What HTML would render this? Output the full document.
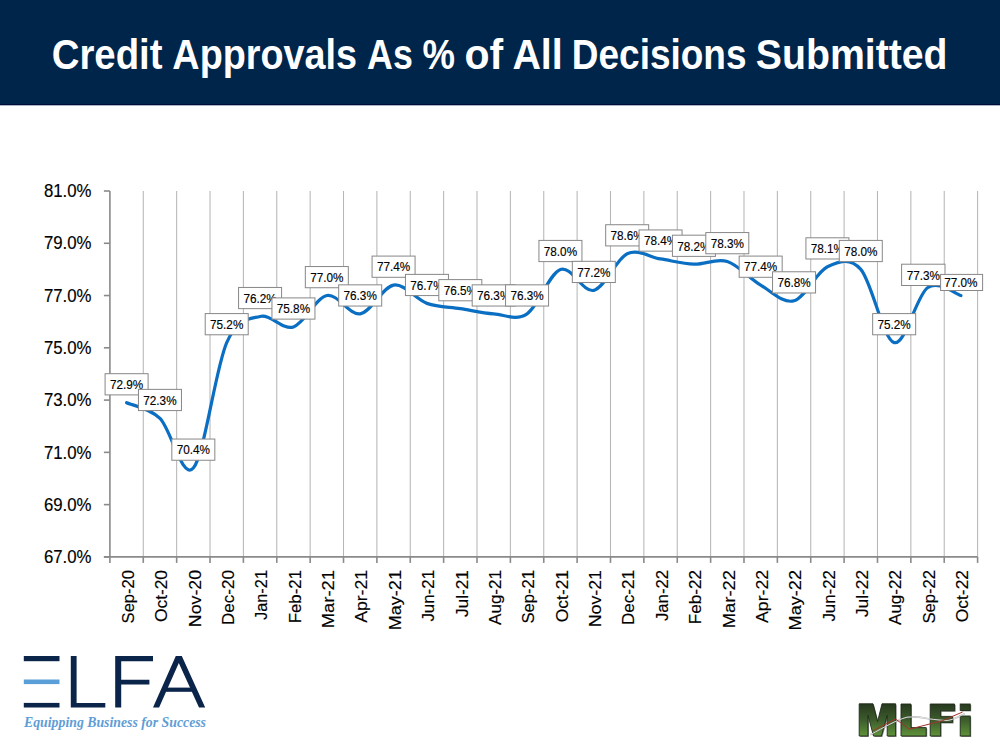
<!DOCTYPE html>
<html><head><meta charset="utf-8">
<style>
html,body{margin:0;padding:0;background:#fff;}
body{width:1000px;height:750px;overflow:hidden;position:relative;font-family:"Liberation Sans",sans-serif;}
svg{position:absolute;left:0;top:0;}
text{font-family:"Liberation Sans",sans-serif;fill:#000;}
.ct{stroke:#000;stroke-width:0.15px;}
</style></head><body>
<svg width="1000" height="750" viewBox="0 0 1000 750">
<rect x="0" y="0" width="1000" height="104" fill="#00254a"/>
<rect x="0" y="104" width="1000" height="1" fill="#000d3a"/>
<rect x="0" y="105" width="1000" height="1" fill="#a9b6c4"/>
<text x="51.73" y="69.2" font-size="42.5" font-weight="bold" style="fill:#fff" textLength="110.74" lengthAdjust="spacingAndGlyphs">Credit</text>
<text x="172.36" y="69.2" font-size="42.5" font-weight="bold" style="fill:#fff" textLength="184.69" lengthAdjust="spacingAndGlyphs">Approvals</text>
<text x="367.11" y="69.2" font-size="42.5" font-weight="bold" style="fill:#fff" textLength="45.76" lengthAdjust="spacingAndGlyphs">As</text>
<text x="422.49" y="69.2" font-size="42.5" font-weight="bold" style="fill:#fff" textLength="32.47" lengthAdjust="spacingAndGlyphs">%</text>
<text x="464.40" y="69.2" font-size="42.5" font-weight="bold" style="fill:#fff" textLength="38.72" lengthAdjust="spacingAndGlyphs">of</text>
<text x="512.42" y="69.2" font-size="42.5" font-weight="bold" style="fill:#fff" textLength="50.37" lengthAdjust="spacingAndGlyphs">All</text>
<text x="571.83" y="69.2" font-size="42.5" font-weight="bold" style="fill:#fff" textLength="174.69" lengthAdjust="spacingAndGlyphs">Decisions</text>
<text x="755.87" y="69.2" font-size="42.5" font-weight="bold" style="fill:#fff" textLength="191.71" lengthAdjust="spacingAndGlyphs">Submitted</text>

<line x1="143.27" y1="191.00" x2="143.27" y2="556.90" stroke="#b6b6b6" stroke-width="1.05"/>
<line x1="176.65" y1="191.00" x2="176.65" y2="556.90" stroke="#b6b6b6" stroke-width="1.05"/>
<line x1="210.02" y1="191.00" x2="210.02" y2="556.90" stroke="#b6b6b6" stroke-width="1.05"/>
<line x1="243.39" y1="191.00" x2="243.39" y2="556.90" stroke="#b6b6b6" stroke-width="1.05"/>
<line x1="276.77" y1="191.00" x2="276.77" y2="556.90" stroke="#b6b6b6" stroke-width="1.05"/>
<line x1="310.14" y1="191.00" x2="310.14" y2="556.90" stroke="#b6b6b6" stroke-width="1.05"/>
<line x1="343.51" y1="191.00" x2="343.51" y2="556.90" stroke="#b6b6b6" stroke-width="1.05"/>
<line x1="376.88" y1="191.00" x2="376.88" y2="556.90" stroke="#b6b6b6" stroke-width="1.05"/>
<line x1="410.26" y1="191.00" x2="410.26" y2="556.90" stroke="#b6b6b6" stroke-width="1.05"/>
<line x1="443.63" y1="191.00" x2="443.63" y2="556.90" stroke="#b6b6b6" stroke-width="1.05"/>
<line x1="477.00" y1="191.00" x2="477.00" y2="556.90" stroke="#b6b6b6" stroke-width="1.05"/>
<line x1="510.38" y1="191.00" x2="510.38" y2="556.90" stroke="#b6b6b6" stroke-width="1.05"/>
<line x1="543.75" y1="191.00" x2="543.75" y2="556.90" stroke="#b6b6b6" stroke-width="1.05"/>
<line x1="577.12" y1="191.00" x2="577.12" y2="556.90" stroke="#b6b6b6" stroke-width="1.05"/>
<line x1="610.50" y1="191.00" x2="610.50" y2="556.90" stroke="#b6b6b6" stroke-width="1.05"/>
<line x1="643.87" y1="191.00" x2="643.87" y2="556.90" stroke="#b6b6b6" stroke-width="1.05"/>
<line x1="677.24" y1="191.00" x2="677.24" y2="556.90" stroke="#b6b6b6" stroke-width="1.05"/>
<line x1="710.62" y1="191.00" x2="710.62" y2="556.90" stroke="#b6b6b6" stroke-width="1.05"/>
<line x1="743.99" y1="191.00" x2="743.99" y2="556.90" stroke="#b6b6b6" stroke-width="1.05"/>
<line x1="777.36" y1="191.00" x2="777.36" y2="556.90" stroke="#b6b6b6" stroke-width="1.05"/>
<line x1="810.73" y1="191.00" x2="810.73" y2="556.90" stroke="#b6b6b6" stroke-width="1.05"/>
<line x1="844.11" y1="191.00" x2="844.11" y2="556.90" stroke="#b6b6b6" stroke-width="1.05"/>
<line x1="877.48" y1="191.00" x2="877.48" y2="556.90" stroke="#b6b6b6" stroke-width="1.05"/>
<line x1="910.85" y1="191.00" x2="910.85" y2="556.90" stroke="#b6b6b6" stroke-width="1.05"/>
<line x1="944.23" y1="191.00" x2="944.23" y2="556.90" stroke="#b6b6b6" stroke-width="1.05"/>
<line x1="977.60" y1="191.00" x2="977.60" y2="556.90" stroke="#b6b6b6" stroke-width="1.05"/>
<line x1="109.90" y1="191.00" x2="109.90" y2="556.90" stroke="#8a8a8a" stroke-width="1.6"/>
<line x1="103.90" y1="556.90" x2="977.60" y2="556.90" stroke="#8a8a8a" stroke-width="1.6"/>
<line x1="103.90" y1="556.90" x2="109.90" y2="556.90" stroke="#8a8a8a" stroke-width="1.6"/>
<text class="ct" x="91.5" y="563.10" text-anchor="end" font-size="17.5" textLength="47.6" lengthAdjust="spacingAndGlyphs">67.0%</text>
<line x1="103.90" y1="504.63" x2="109.90" y2="504.63" stroke="#8a8a8a" stroke-width="1.6"/>
<text class="ct" x="91.5" y="510.83" text-anchor="end" font-size="17.5" textLength="47.6" lengthAdjust="spacingAndGlyphs">69.0%</text>
<line x1="103.90" y1="452.36" x2="109.90" y2="452.36" stroke="#8a8a8a" stroke-width="1.6"/>
<text class="ct" x="91.5" y="458.56" text-anchor="end" font-size="17.5" textLength="47.6" lengthAdjust="spacingAndGlyphs">71.0%</text>
<line x1="103.90" y1="400.09" x2="109.90" y2="400.09" stroke="#8a8a8a" stroke-width="1.6"/>
<text class="ct" x="91.5" y="406.29" text-anchor="end" font-size="17.5" textLength="47.6" lengthAdjust="spacingAndGlyphs">73.0%</text>
<line x1="103.90" y1="347.81" x2="109.90" y2="347.81" stroke="#8a8a8a" stroke-width="1.6"/>
<text class="ct" x="91.5" y="354.01" text-anchor="end" font-size="17.5" textLength="47.6" lengthAdjust="spacingAndGlyphs">75.0%</text>
<line x1="103.90" y1="295.54" x2="109.90" y2="295.54" stroke="#8a8a8a" stroke-width="1.6"/>
<text class="ct" x="91.5" y="301.74" text-anchor="end" font-size="17.5" textLength="47.6" lengthAdjust="spacingAndGlyphs">77.0%</text>
<line x1="103.90" y1="243.27" x2="109.90" y2="243.27" stroke="#8a8a8a" stroke-width="1.6"/>
<text class="ct" x="91.5" y="249.47" text-anchor="end" font-size="17.5" textLength="47.6" lengthAdjust="spacingAndGlyphs">79.0%</text>
<line x1="103.90" y1="191.00" x2="109.90" y2="191.00" stroke="#8a8a8a" stroke-width="1.6"/>
<text class="ct" x="91.5" y="197.20" text-anchor="end" font-size="17.5" textLength="47.6" lengthAdjust="spacingAndGlyphs">81.0%</text>
<line x1="109.90" y1="556.90" x2="109.90" y2="562.90" stroke="#8a8a8a" stroke-width="1.6"/>
<line x1="143.27" y1="556.90" x2="143.27" y2="562.90" stroke="#8a8a8a" stroke-width="1.6"/>
<line x1="176.65" y1="556.90" x2="176.65" y2="562.90" stroke="#8a8a8a" stroke-width="1.6"/>
<line x1="210.02" y1="556.90" x2="210.02" y2="562.90" stroke="#8a8a8a" stroke-width="1.6"/>
<line x1="243.39" y1="556.90" x2="243.39" y2="562.90" stroke="#8a8a8a" stroke-width="1.6"/>
<line x1="276.77" y1="556.90" x2="276.77" y2="562.90" stroke="#8a8a8a" stroke-width="1.6"/>
<line x1="310.14" y1="556.90" x2="310.14" y2="562.90" stroke="#8a8a8a" stroke-width="1.6"/>
<line x1="343.51" y1="556.90" x2="343.51" y2="562.90" stroke="#8a8a8a" stroke-width="1.6"/>
<line x1="376.88" y1="556.90" x2="376.88" y2="562.90" stroke="#8a8a8a" stroke-width="1.6"/>
<line x1="410.26" y1="556.90" x2="410.26" y2="562.90" stroke="#8a8a8a" stroke-width="1.6"/>
<line x1="443.63" y1="556.90" x2="443.63" y2="562.90" stroke="#8a8a8a" stroke-width="1.6"/>
<line x1="477.00" y1="556.90" x2="477.00" y2="562.90" stroke="#8a8a8a" stroke-width="1.6"/>
<line x1="510.38" y1="556.90" x2="510.38" y2="562.90" stroke="#8a8a8a" stroke-width="1.6"/>
<line x1="543.75" y1="556.90" x2="543.75" y2="562.90" stroke="#8a8a8a" stroke-width="1.6"/>
<line x1="577.12" y1="556.90" x2="577.12" y2="562.90" stroke="#8a8a8a" stroke-width="1.6"/>
<line x1="610.50" y1="556.90" x2="610.50" y2="562.90" stroke="#8a8a8a" stroke-width="1.6"/>
<line x1="643.87" y1="556.90" x2="643.87" y2="562.90" stroke="#8a8a8a" stroke-width="1.6"/>
<line x1="677.24" y1="556.90" x2="677.24" y2="562.90" stroke="#8a8a8a" stroke-width="1.6"/>
<line x1="710.62" y1="556.90" x2="710.62" y2="562.90" stroke="#8a8a8a" stroke-width="1.6"/>
<line x1="743.99" y1="556.90" x2="743.99" y2="562.90" stroke="#8a8a8a" stroke-width="1.6"/>
<line x1="777.36" y1="556.90" x2="777.36" y2="562.90" stroke="#8a8a8a" stroke-width="1.6"/>
<line x1="810.73" y1="556.90" x2="810.73" y2="562.90" stroke="#8a8a8a" stroke-width="1.6"/>
<line x1="844.11" y1="556.90" x2="844.11" y2="562.90" stroke="#8a8a8a" stroke-width="1.6"/>
<line x1="877.48" y1="556.90" x2="877.48" y2="562.90" stroke="#8a8a8a" stroke-width="1.6"/>
<line x1="910.85" y1="556.90" x2="910.85" y2="562.90" stroke="#8a8a8a" stroke-width="1.6"/>
<line x1="944.23" y1="556.90" x2="944.23" y2="562.90" stroke="#8a8a8a" stroke-width="1.6"/>
<line x1="977.60" y1="556.90" x2="977.60" y2="562.90" stroke="#8a8a8a" stroke-width="1.6"/>
<text class="ct" transform="translate(133.79,570) rotate(-90)" text-anchor="end" font-size="16.8" textLength="53.40" lengthAdjust="spacingAndGlyphs">Sep-20</text>
<text class="ct" transform="translate(167.16,570) rotate(-90)" text-anchor="end" font-size="16.8" textLength="52.00" lengthAdjust="spacingAndGlyphs">Oct-20</text>
<text class="ct" transform="translate(200.53,570) rotate(-90)" text-anchor="end" font-size="16.8" textLength="57.15" lengthAdjust="spacingAndGlyphs">Nov-20</text>
<text class="ct" transform="translate(233.91,570) rotate(-90)" text-anchor="end" font-size="16.8" textLength="54.96" lengthAdjust="spacingAndGlyphs">Dec-20</text>
<text class="ct" transform="translate(267.28,570) rotate(-90)" text-anchor="end" font-size="16.8" textLength="50.06" lengthAdjust="spacingAndGlyphs">Jan-21</text>
<text class="ct" transform="translate(300.65,570) rotate(-90)" text-anchor="end" font-size="16.8" textLength="53.30" lengthAdjust="spacingAndGlyphs">Feb-21</text>
<text class="ct" transform="translate(334.03,570) rotate(-90)" text-anchor="end" font-size="16.8" textLength="58.31" lengthAdjust="spacingAndGlyphs">Mar-21</text>
<text class="ct" transform="translate(367.40,570) rotate(-90)" text-anchor="end" font-size="16.8" textLength="52.89" lengthAdjust="spacingAndGlyphs">Apr-21</text>
<text class="ct" transform="translate(400.77,570) rotate(-90)" text-anchor="end" font-size="16.8" textLength="60.37" lengthAdjust="spacingAndGlyphs">May-21</text>
<text class="ct" transform="translate(434.14,570) rotate(-90)" text-anchor="end" font-size="16.8" textLength="51.59" lengthAdjust="spacingAndGlyphs">Jun-21</text>
<text class="ct" transform="translate(467.52,570) rotate(-90)" text-anchor="end" font-size="16.8" textLength="47.11" lengthAdjust="spacingAndGlyphs">Jul-21</text>
<text class="ct" transform="translate(500.89,570) rotate(-90)" text-anchor="end" font-size="16.8" textLength="54.97" lengthAdjust="spacingAndGlyphs">Aug-21</text>
<text class="ct" transform="translate(534.26,570) rotate(-90)" text-anchor="end" font-size="16.8" textLength="53.57" lengthAdjust="spacingAndGlyphs">Sep-21</text>
<text class="ct" transform="translate(567.64,570) rotate(-90)" text-anchor="end" font-size="16.8" textLength="52.17" lengthAdjust="spacingAndGlyphs">Oct-21</text>
<text class="ct" transform="translate(601.01,570) rotate(-90)" text-anchor="end" font-size="16.8" textLength="57.33" lengthAdjust="spacingAndGlyphs">Nov-21</text>
<text class="ct" transform="translate(634.38,570) rotate(-90)" text-anchor="end" font-size="16.8" textLength="55.14" lengthAdjust="spacingAndGlyphs">Dec-21</text>
<text class="ct" transform="translate(667.76,570) rotate(-90)" text-anchor="end" font-size="16.8" textLength="51.00" lengthAdjust="spacingAndGlyphs">Jan-22</text>
<text class="ct" transform="translate(701.13,570) rotate(-90)" text-anchor="end" font-size="16.8" textLength="54.27" lengthAdjust="spacingAndGlyphs">Feb-22</text>
<text class="ct" transform="translate(734.50,570) rotate(-90)" text-anchor="end" font-size="16.8" textLength="58.34" lengthAdjust="spacingAndGlyphs">Mar-22</text>
<text class="ct" transform="translate(767.88,570) rotate(-90)" text-anchor="end" font-size="16.8" textLength="52.92" lengthAdjust="spacingAndGlyphs">Apr-22</text>
<text class="ct" transform="translate(801.25,570) rotate(-90)" text-anchor="end" font-size="16.8" textLength="60.40" lengthAdjust="spacingAndGlyphs">May-22</text>
<text class="ct" transform="translate(834.62,570) rotate(-90)" text-anchor="end" font-size="16.8" textLength="51.61" lengthAdjust="spacingAndGlyphs">Jun-22</text>
<text class="ct" transform="translate(867.99,570) rotate(-90)" text-anchor="end" font-size="16.8" textLength="47.14" lengthAdjust="spacingAndGlyphs">Jul-22</text>
<text class="ct" transform="translate(901.37,570) rotate(-90)" text-anchor="end" font-size="16.8" textLength="54.99" lengthAdjust="spacingAndGlyphs">Aug-22</text>
<text class="ct" transform="translate(934.74,570) rotate(-90)" text-anchor="end" font-size="16.8" textLength="53.59" lengthAdjust="spacingAndGlyphs">Sep-22</text>
<text class="ct" transform="translate(968.11,570) rotate(-90)" text-anchor="end" font-size="16.8" textLength="52.20" lengthAdjust="spacingAndGlyphs">Oct-22</text>
<path d="M126.59,402.70 C132.15,405.31 148.84,407.49 159.96,418.38 C171.08,429.27 182.21,480.67 193.33,468.04 C204.46,455.41 215.58,367.85 226.71,342.59 C237.83,317.32 248.95,319.06 260.08,316.45 C271.20,313.84 282.33,330.39 293.45,326.91 C304.58,323.42 315.70,297.72 326.83,295.54 C337.95,293.36 349.07,315.58 360.20,313.84 C371.32,312.10 382.45,286.83 393.57,285.09 C404.70,283.35 415.82,299.46 426.94,303.38 C438.07,307.30 449.19,306.87 460.32,308.61 C471.44,310.35 482.57,312.97 493.69,313.84 C504.81,314.71 515.94,321.24 527.06,313.84 C538.19,306.43 549.31,273.33 560.44,269.41 C571.56,265.49 582.69,292.93 593.81,290.32 C604.93,287.70 616.06,258.95 627.18,253.73 C638.31,248.50 649.43,257.21 660.56,258.95 C671.68,260.70 682.80,263.74 693.93,264.18 C705.05,264.62 716.18,258.08 727.30,261.57 C738.43,265.05 749.55,278.55 760.67,285.09 C771.80,291.62 782.92,303.82 794.05,300.77 C805.17,297.72 816.30,272.02 827.42,266.79 C838.55,261.57 849.67,256.77 860.79,269.41 C871.92,282.04 883.04,339.54 894.17,342.59 C905.29,345.64 916.42,295.54 927.54,287.70 C938.66,279.86 955.35,294.24 960.91,295.54" fill="none" stroke="#0a6fc2" stroke-width="3.2" stroke-linecap="round" stroke-linejoin="round"/>
<rect x="105.09" y="373.70" width="43.00" height="21.20" fill="#fff" stroke="#878787" stroke-width="1"/>
<text class="ct" x="126.59" y="389.10" text-anchor="middle" font-size="12.6" textLength="33.3" lengthAdjust="spacingAndGlyphs">72.9%</text>
<rect x="138.46" y="389.38" width="43.00" height="21.20" fill="#fff" stroke="#878787" stroke-width="1"/>
<text class="ct" x="159.96" y="404.78" text-anchor="middle" font-size="12.6" textLength="33.3" lengthAdjust="spacingAndGlyphs">72.3%</text>
<rect x="171.83" y="439.04" width="43.00" height="21.20" fill="#fff" stroke="#878787" stroke-width="1"/>
<text class="ct" x="193.33" y="454.44" text-anchor="middle" font-size="12.6" textLength="33.3" lengthAdjust="spacingAndGlyphs">70.4%</text>
<rect x="205.21" y="313.59" width="43.00" height="21.20" fill="#fff" stroke="#878787" stroke-width="1"/>
<text class="ct" x="226.71" y="328.99" text-anchor="middle" font-size="12.6" textLength="33.3" lengthAdjust="spacingAndGlyphs">75.2%</text>
<rect x="238.58" y="287.45" width="43.00" height="21.20" fill="#fff" stroke="#878787" stroke-width="1"/>
<text class="ct" x="260.08" y="302.85" text-anchor="middle" font-size="12.6" textLength="33.3" lengthAdjust="spacingAndGlyphs">76.2%</text>
<rect x="271.95" y="297.91" width="43.00" height="21.20" fill="#fff" stroke="#878787" stroke-width="1"/>
<text class="ct" x="293.45" y="313.31" text-anchor="middle" font-size="12.6" textLength="33.3" lengthAdjust="spacingAndGlyphs">75.8%</text>
<rect x="305.33" y="266.54" width="43.00" height="21.20" fill="#fff" stroke="#878787" stroke-width="1"/>
<text class="ct" x="326.83" y="281.94" text-anchor="middle" font-size="12.6" textLength="33.3" lengthAdjust="spacingAndGlyphs">77.0%</text>
<rect x="338.70" y="284.84" width="43.00" height="21.20" fill="#fff" stroke="#878787" stroke-width="1"/>
<text class="ct" x="360.20" y="300.24" text-anchor="middle" font-size="12.6" textLength="33.3" lengthAdjust="spacingAndGlyphs">76.3%</text>
<rect x="372.07" y="256.09" width="43.00" height="21.20" fill="#fff" stroke="#878787" stroke-width="1"/>
<text class="ct" x="393.57" y="271.49" text-anchor="middle" font-size="12.6" textLength="33.3" lengthAdjust="spacingAndGlyphs">77.4%</text>
<rect x="405.44" y="274.38" width="43.00" height="21.20" fill="#fff" stroke="#878787" stroke-width="1"/>
<text class="ct" x="426.94" y="289.78" text-anchor="middle" font-size="12.6" textLength="33.3" lengthAdjust="spacingAndGlyphs">76.7%</text>
<rect x="438.82" y="279.61" width="43.00" height="21.20" fill="#fff" stroke="#878787" stroke-width="1"/>
<text class="ct" x="460.32" y="295.01" text-anchor="middle" font-size="12.6" textLength="33.3" lengthAdjust="spacingAndGlyphs">76.5%</text>
<rect x="472.19" y="284.84" width="43.00" height="21.20" fill="#fff" stroke="#878787" stroke-width="1"/>
<text class="ct" x="493.69" y="300.24" text-anchor="middle" font-size="12.6" textLength="33.3" lengthAdjust="spacingAndGlyphs">76.3%</text>
<rect x="505.56" y="284.84" width="43.00" height="21.20" fill="#fff" stroke="#878787" stroke-width="1"/>
<text class="ct" x="527.06" y="300.24" text-anchor="middle" font-size="12.6" textLength="33.3" lengthAdjust="spacingAndGlyphs">76.3%</text>
<rect x="538.94" y="240.41" width="43.00" height="21.20" fill="#fff" stroke="#878787" stroke-width="1"/>
<text class="ct" x="560.44" y="255.81" text-anchor="middle" font-size="12.6" textLength="33.3" lengthAdjust="spacingAndGlyphs">78.0%</text>
<rect x="572.31" y="261.32" width="43.00" height="21.20" fill="#fff" stroke="#878787" stroke-width="1"/>
<text class="ct" x="593.81" y="276.72" text-anchor="middle" font-size="12.6" textLength="33.3" lengthAdjust="spacingAndGlyphs">77.2%</text>
<rect x="605.68" y="224.73" width="43.00" height="21.20" fill="#fff" stroke="#878787" stroke-width="1"/>
<text class="ct" x="627.18" y="240.13" text-anchor="middle" font-size="12.6" textLength="33.3" lengthAdjust="spacingAndGlyphs">78.6%</text>
<rect x="639.06" y="229.95" width="43.00" height="21.20" fill="#fff" stroke="#878787" stroke-width="1"/>
<text class="ct" x="660.56" y="245.35" text-anchor="middle" font-size="12.6" textLength="33.3" lengthAdjust="spacingAndGlyphs">78.4%</text>
<rect x="672.43" y="235.18" width="43.00" height="21.20" fill="#fff" stroke="#878787" stroke-width="1"/>
<text class="ct" x="693.93" y="250.58" text-anchor="middle" font-size="12.6" textLength="33.3" lengthAdjust="spacingAndGlyphs">78.2%</text>
<rect x="705.80" y="232.57" width="43.00" height="21.20" fill="#fff" stroke="#878787" stroke-width="1"/>
<text class="ct" x="727.30" y="247.97" text-anchor="middle" font-size="12.6" textLength="33.3" lengthAdjust="spacingAndGlyphs">78.3%</text>
<rect x="739.17" y="256.09" width="43.00" height="21.20" fill="#fff" stroke="#878787" stroke-width="1"/>
<text class="ct" x="760.67" y="271.49" text-anchor="middle" font-size="12.6" textLength="33.3" lengthAdjust="spacingAndGlyphs">77.4%</text>
<rect x="772.55" y="271.77" width="43.00" height="21.20" fill="#fff" stroke="#878787" stroke-width="1"/>
<text class="ct" x="794.05" y="287.17" text-anchor="middle" font-size="12.6" textLength="33.3" lengthAdjust="spacingAndGlyphs">76.8%</text>
<rect x="805.92" y="237.79" width="43.00" height="21.20" fill="#fff" stroke="#878787" stroke-width="1"/>
<text class="ct" x="827.42" y="253.19" text-anchor="middle" font-size="12.6" textLength="33.3" lengthAdjust="spacingAndGlyphs">78.1%</text>
<rect x="839.29" y="240.41" width="43.00" height="21.20" fill="#fff" stroke="#878787" stroke-width="1"/>
<text class="ct" x="860.79" y="255.81" text-anchor="middle" font-size="12.6" textLength="33.3" lengthAdjust="spacingAndGlyphs">78.0%</text>
<rect x="872.67" y="313.59" width="43.00" height="21.20" fill="#fff" stroke="#878787" stroke-width="1"/>
<text class="ct" x="894.17" y="328.99" text-anchor="middle" font-size="12.6" textLength="33.3" lengthAdjust="spacingAndGlyphs">75.2%</text>
<rect x="901.60" y="264.20" width="43.40" height="21.30" fill="#fff" stroke="#878787" stroke-width="1"/>
<text class="ct" x="923.30" y="279.60" text-anchor="middle" font-size="12.6" textLength="33.3" lengthAdjust="spacingAndGlyphs">77.3%</text>
<rect x="940.60" y="274.40" width="42.00" height="16.10" fill="#fff" stroke="#878787" stroke-width="1"/>
<text class="ct" x="960.91" y="287.20" text-anchor="middle" font-size="12.6" textLength="33.3" lengthAdjust="spacingAndGlyphs">77.0%</text>

<!-- MLFi logo -->
<defs>
<linearGradient id="mg" gradientUnits="userSpaceOnUse" x1="0" y1="704" x2="0" y2="736">
<stop offset="0" stop-color="#27391f"/>
<stop offset="0.5" stop-color="#3d5c2c"/>
<stop offset="1" stop-color="#5f923a"/>
</linearGradient>
</defs>
<g fill="#2a2a2a" opacity="0.55" transform="translate(1,1)">
<polygon points="859.2,736 859.2,703.8 873,703.8 877.6,721.5 882,703.8 895.6,703.8 895.6,736 887.2,736 887.2,715.4 881.4,736 873.5,736 868,715.4 868,736"/>
<polygon points="901,704 911,704 911,727.6 926.2,727.6 926.2,736 901,736"/>
<polygon points="930.2,704 954.6,704 954.6,710.8 940.6,710.8 940.6,716.4 952.6,716.4 952.6,722.4 940.6,722.4 940.6,736 930.2,736"/>
<rect x="960.2" y="704" width="10" height="6.4"/>
<rect x="960.2" y="716" width="10" height="20"/>
</g>
<g fill="url(#mg)" stroke="#1d2b17" stroke-width="0.9">
<polygon points="859.2,736 859.2,703.8 873,703.8 877.6,721.5 882,703.8 895.6,703.8 895.6,736 887.2,736 887.2,715.4 881.4,736 873.5,736 868,715.4 868,736"/>
<polygon points="901,704 911,704 911,727.6 926.2,727.6 926.2,736 901,736"/>
<polygon points="930.2,704 954.6,704 954.6,710.8 940.6,710.8 940.6,716.4 952.6,716.4 952.6,722.4 940.6,722.4 940.6,736 930.2,736"/>
<rect x="960.2" y="704" width="10" height="6.4"/>
<rect x="960.2" y="716" width="10" height="20"/>
</g>
<path d="M870.2,734.7 C885,727 896,720 907,717.2 C913,716.6 919,717 923,717.8 C928,718.5 930,719 933.4,719.4 C940,720 944,720.6 948.2,720.4 C955,719 960,716 965,713.6" fill="none" stroke="#555" stroke-width="1.6" opacity="0.5"/>
<path d="M870.2,734.7 C885,727 896,720 907,717.2 C913,716.6 919,717 923,717.8 C928,718.5 930,719 933.4,719.4 C940,720 944,720.6 948.2,720.4 C955,719 960,716 965,713.6" fill="none" stroke="#ececec" stroke-width="0.9"/>
<polyline points="872.8,730.8 895.5,719 909.4,729.2 942.2,720.8 962.6,712" fill="none" stroke="#a4302a" stroke-width="1.0"/>

<!-- ELFA logo -->
<g fill="#0b2449">
<rect x="23.8" y="656" width="35.7" height="5.2"/>
<rect x="23.8" y="702.9" width="35.7" height="4.6"/>
<polygon points="70.8,656 76.6,656 76.6,702.9 105.3,702.9 105.3,707.5 70.8,707.5"/>
<polygon points="115.2,656 153,656 153,661.2 121.2,661.2 121.2,679.8 149.4,679.8 149.4,684.6 121.2,684.6 121.2,707.5 115.2,707.5"/>
<polygon points="153,707.5 175.8,656 181.8,656 205.2,707.5 199,707.5 178.8,663 159.1,707.5"/>
<rect x="165.5" y="687.6" width="27" height="4.2"/>
</g>
<rect x="23.8" y="679.5" width="35.7" height="4.6" fill="#5b9fd9"/>
<text x="24" y="726.6" font-size="13.6" font-style="italic" font-weight="bold" style="font-family:'Liberation Serif',serif;fill:#5f9dd6" textLength="182" lengthAdjust="spacingAndGlyphs">Equipping Business for Success</text>
</svg>
</body></html>
